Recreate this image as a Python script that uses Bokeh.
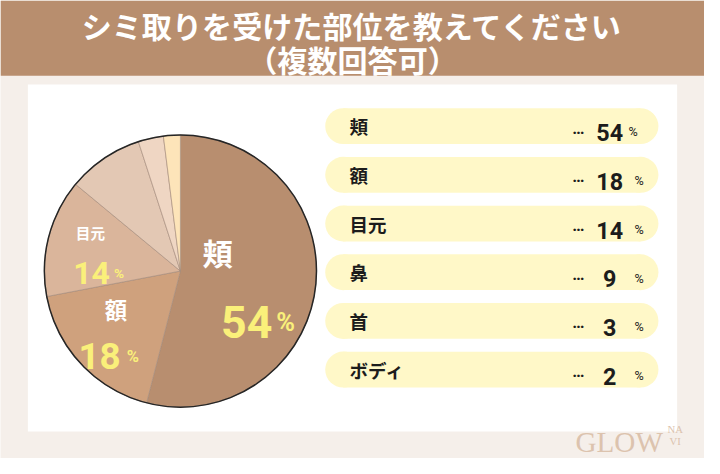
import math
from bokeh.plotting import figure
from bokeh.models import ColumnDataSource
from bokeh.core.properties import value
from bokeh.embed import file_html
from bokeh.resources import INLINE

# ---------------- data ----------------
title_lines = ["シミ取りを受けた部位を教えてください", "（複数回答可）"]
categories = ["頬", "額", "目元", "鼻", "首", "ボディ"]
values = [54, 18, 14, 9, 3, 2]
colors = ["#b88e6f", "#cfa17d", "#dab59b", "#e3c8b4", "#efd6c3", "#fde4b9"]
pct_sign = "%"

# ---------------- layout (reference image pixel coords, scaled to fit) ----------------
W, H = 720, 474
PW, PH = 704, 458
S = (PW / W + PH / H) / 2


def Y(img_y):
    return H - img_y


def fs(px):
    return f"{px * S:.1f}px"


JP = value("Noto Sans CJK JP")
NUM = value("Roboto")

p = figure(width=PW, height=PH, x_range=(0, W), y_range=(0, H),
           output_backend="svg", toolbar_location=None, min_border=0)
p.axis.visible = False
p.grid.visible = False
p.outline_line_color = None
p.background_fill_color = "#f5efea"
p.border_fill_color = "#f5efea"

# title bar
p.quad(left=[0], right=[W], top=[Y(0)], bottom=[Y(78)], fill_color="#b88e6e", line_color=None)
p.text(x=[360, 360], y=[Y(25), Y(61)], text=title_lines, text_font=JP, text_font_style="bold",
       text_font_size=fs(31), text_color="white", text_align="center", text_baseline="middle")

# white card
p.quad(left=[28], right=[692], top=[Y(87)], bottom=[Y(446)], fill_color="white", line_color=None)

# ---------------- pie ----------------
cx, cy, r = 184, 280, 140
total = sum(values)
starts, ends = [], []
acc = 0
for v in values:
    starts.append(math.pi / 2 - 2 * math.pi * acc / total)
    acc += v
    ends.append(math.pi / 2 - 2 * math.pi * acc / total)
pie_src = ColumnDataSource(dict(start=starts, end=ends, color=colors, cat=categories))
p.wedge(x=cx, y=Y(cy), radius=r * S, radius_units="screen", start_angle="start", end_angle="end",
        direction="clock", fill_color="color", line_color="#a58c7c", line_width=0.8,
        line_alpha=0.8, source=pie_src)
p.circle(x=[cx], y=[Y(cy)], radius=r * S, radius_units="screen", fill_color=None,
         line_color="#262626", line_width=1.5)

# pie labels (first three categories)
name_pos = [(222, 260, 31), (118, 319, 23), (92, 240, 15)]
num_pos = [(278, 333, 46, 282, 26), (123, 368, 38, 129, 17), (112, 282, 33, 116, 14)]
for i in range(3):
    nx, ny, nfs = name_pos[i]
    p.text(x=[nx], y=[Y(ny)], text=[categories[i]], text_font=JP, text_font_style="bold",
           text_font_size=fs(nfs), text_color="white", text_align="center", text_baseline="middle")
    vx, vy, vfs, px_, pfs = num_pos[i]
    p.text(x=[vx], y=[Y(vy)], text=[str(values[i])], text_font=NUM, text_font_style="bold",
           text_font_size=fs(vfs), text_color="#faf07a", text_align="right", text_baseline="alphabetic")
    p.text(x=[px_], y=[Y(vy)], text=[pct_sign], text_font=NUM, text_font_style="bold",
           text_font_size=fs(pfs), text_color="#faf07a", text_align="left", text_baseline="alphabetic")

# ---------------- legend pills ----------------
pill_l, pill_r, ph = 332, 673, 37
centers = [130 + 50.4 * i for i in range(len(categories))]
yc = [Y(c) for c in centers]
cap_r = ph / 2
p.quad(left=pill_l + cap_r, right=pill_r - cap_r, top=[y + cap_r for y in yc],
       bottom=[y - cap_r for y in yc], fill_color="#fff8c8", line_color=None)
p.circle(x=[pill_l + cap_r] * len(yc), y=yc, radius=cap_r * S, radius_units="screen",
         fill_color="#fff8c8", line_color=None)
p.circle(x=[pill_r - cap_r] * len(yc), y=yc, radius=cap_r * S, radius_units="screen",
         fill_color="#fff8c8", line_color=None)

p.text(x=[357] * len(yc), y=yc, text=categories, text_font=JP, text_font_style="bold",
       text_font_size=fs(19), text_color="#1c1c1c", text_align="left", text_baseline="middle")
p.text(x=[591] * len(yc), y=[y - 2 for y in yc], text=["…"] * len(yc), text_font=NUM,
       text_font_style="bold", text_font_size=fs(17), text_color="#1c1c1c", text_align="center",
       text_baseline="alphabetic")
p.text(x=[623] * len(yc), y=[y - 7 for y in yc], text=[str(v) for v in values], text_font=NUM,
       text_font_style="bold", text_font_size=fs(24), text_color="#1c1c1c", text_align="center",
       text_baseline="alphabetic")
pct_x = [647] + [653] * (len(yc) - 1)
p.text(x=pct_x, y=[y - 6 for y in yc], text=[pct_sign] * len(yc), text_font=NUM,
       text_font_size=fs(13), text_color="#1c1c1c", text_align="center", text_baseline="alphabetic")

# ---------------- watermark ----------------
p.text(x=[588], y=[Y(457)], text=["GLOW"], text_font=value("Liberation Serif"),
       text_font_size=fs(30), text_color="#dcc3ae", text_align="left", text_baseline="alphabetic")
p.text(x=[690, 690], y=[Y(443), Y(456)], text=["NA", "VI"], text_font=value("Liberation Serif"),
       text_font_size=fs(11), text_color="#dcc3ae", text_align="center", text_baseline="alphabetic")

open("out.html", "w").write(file_html(p, INLINE))
